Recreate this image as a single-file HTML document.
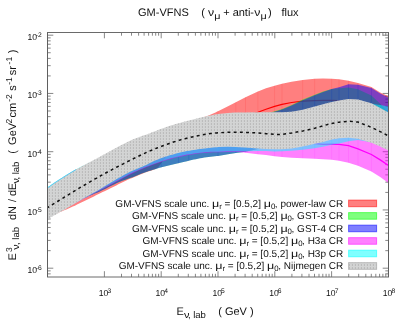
<!DOCTYPE html>
<html><head><meta charset="utf-8"><title>GM-VFNS flux</title>
<style>html,body{margin:0;padding:0;background:#fff;overflow:hidden}body{width:407px;height:326px;position:relative;font-family:"Liberation Sans",sans-serif}</style></head>
<body>
<svg width="407" height="326" viewBox="0 0 407 326" style="position:absolute;left:0;top:0;will-change:transform">
<defs><clipPath id="cp"><rect x="47.50" y="32.50" width="341.00" height="244.50"/></clipPath>
<pattern id="dots" x="0" y="0" width="3" height="3" patternUnits="userSpaceOnUse"><rect x="0.90" y="0.20" width="1" height="1.6" fill="#b3b3b3"/></pattern>
</defs>
<path d="M104.40,277.00L104.40,271.20 M104.40,32.50L104.40,38.30 M121.50,277.00L121.50,273.80 M121.50,32.50L121.50,35.70 M131.50,277.00L131.50,273.80 M131.50,32.50L131.50,35.70 M138.60,277.00L138.60,273.80 M138.60,32.50L138.60,35.70 M144.10,277.00L144.10,273.80 M144.10,32.50L144.10,35.70 M148.60,277.00L148.60,273.80 M148.60,32.50L148.60,35.70 M152.40,277.00L152.40,273.80 M152.40,32.50L152.40,35.70 M155.70,277.00L155.70,273.80 M155.70,32.50L155.70,35.70 M158.60,277.00L158.60,273.80 M158.60,32.50L158.60,35.70 M161.20,277.00L161.20,271.20 M161.20,32.50L161.20,38.30 M178.30,277.00L178.30,273.80 M178.30,32.50L178.30,35.70 M188.30,277.00L188.30,273.80 M188.30,32.50L188.30,35.70 M195.40,277.00L195.40,273.80 M195.40,32.50L195.40,35.70 M200.90,277.00L200.90,273.80 M200.90,32.50L200.90,35.70 M205.40,277.00L205.40,273.80 M205.40,32.50L205.40,35.70 M209.20,277.00L209.20,273.80 M209.20,32.50L209.20,35.70 M212.50,277.00L212.50,273.80 M212.50,32.50L212.50,35.70 M215.40,277.00L215.40,273.80 M215.40,32.50L215.40,35.70 M218.00,277.00L218.00,271.20 M218.00,32.50L218.00,38.30 M235.10,277.00L235.10,273.80 M235.10,32.50L235.10,35.70 M245.10,277.00L245.10,273.80 M245.10,32.50L245.10,35.70 M252.20,277.00L252.20,273.80 M252.20,32.50L252.20,35.70 M257.70,277.00L257.70,273.80 M257.70,32.50L257.70,35.70 M262.20,277.00L262.20,273.80 M262.20,32.50L262.20,35.70 M266.00,277.00L266.00,273.80 M266.00,32.50L266.00,35.70 M269.30,277.00L269.30,273.80 M269.30,32.50L269.30,35.70 M272.20,277.00L272.20,273.80 M272.20,32.50L272.20,35.70 M274.80,277.00L274.80,271.20 M274.80,32.50L274.80,38.30 M291.90,277.00L291.90,273.80 M291.90,32.50L291.90,35.70 M301.90,277.00L301.90,273.80 M301.90,32.50L301.90,35.70 M309.00,277.00L309.00,273.80 M309.00,32.50L309.00,35.70 M314.50,277.00L314.50,273.80 M314.50,32.50L314.50,35.70 M319.00,277.00L319.00,273.80 M319.00,32.50L319.00,35.70 M322.80,277.00L322.80,273.80 M322.80,32.50L322.80,35.70 M326.10,277.00L326.10,273.80 M326.10,32.50L326.10,35.70 M329.00,277.00L329.00,273.80 M329.00,32.50L329.00,35.70 M331.60,277.00L331.60,271.20 M331.60,32.50L331.60,38.30 M348.70,277.00L348.70,273.80 M348.70,32.50L348.70,35.70 M358.70,277.00L358.70,273.80 M358.70,32.50L358.70,35.70 M365.80,277.00L365.80,273.80 M365.80,32.50L365.80,35.70 M371.30,277.00L371.30,273.80 M371.30,32.50L371.30,35.70 M375.80,277.00L375.80,273.80 M375.80,32.50L375.80,35.70 M379.60,277.00L379.60,273.80 M379.60,32.50L379.60,35.70 M382.90,277.00L382.90,273.80 M382.90,32.50L382.90,35.70 M385.80,277.00L385.80,273.80 M385.80,32.50L385.80,35.70 M388.40,277.00L388.40,271.20 M388.40,32.50L388.40,38.30 M47.50,273.85L50.70,273.85 M388.50,273.85L385.30,273.85 M47.50,270.87L50.70,270.87 M388.50,270.87L385.30,270.87 M47.50,268.20L53.30,268.20 M388.50,268.20L382.70,268.20 M47.50,250.67L50.70,250.67 M388.50,250.67L385.30,250.67 M47.50,240.41L50.70,240.41 M388.50,240.41L385.30,240.41 M47.50,233.13L50.70,233.13 M388.50,233.13L385.30,233.13 M47.50,227.48L50.70,227.48 M388.50,227.48L385.30,227.48 M47.50,222.87L50.70,222.87 M388.50,222.87L385.30,222.87 M47.50,218.97L50.70,218.97 M388.50,218.97L385.30,218.97 M47.50,215.60L50.70,215.60 M388.50,215.60L385.30,215.60 M47.50,212.62L50.70,212.62 M388.50,212.62L385.30,212.62 M47.50,209.95L53.30,209.95 M388.50,209.95L382.70,209.95 M47.50,192.42L50.70,192.42 M388.50,192.42L385.30,192.42 M47.50,182.16L50.70,182.16 M388.50,182.16L385.30,182.16 M47.50,174.88L50.70,174.88 M388.50,174.88L385.30,174.88 M47.50,169.23L50.70,169.23 M388.50,169.23L385.30,169.23 M47.50,164.62L50.70,164.62 M388.50,164.62L385.30,164.62 M47.50,160.72L50.70,160.72 M388.50,160.72L385.30,160.72 M47.50,157.35L50.70,157.35 M388.50,157.35L385.30,157.35 M47.50,154.37L50.70,154.37 M388.50,154.37L385.30,154.37 M47.50,151.70L53.30,151.70 M388.50,151.70L382.70,151.70 M47.50,134.17L50.70,134.17 M388.50,134.17L385.30,134.17 M47.50,123.91L50.70,123.91 M388.50,123.91L385.30,123.91 M47.50,116.63L50.70,116.63 M388.50,116.63L385.30,116.63 M47.50,110.98L50.70,110.98 M388.50,110.98L385.30,110.98 M47.50,106.37L50.70,106.37 M388.50,106.37L385.30,106.37 M47.50,102.47L50.70,102.47 M388.50,102.47L385.30,102.47 M47.50,99.10L50.70,99.10 M388.50,99.10L385.30,99.10 M47.50,96.12L50.70,96.12 M388.50,96.12L385.30,96.12 M47.50,93.45L53.30,93.45 M388.50,93.45L382.70,93.45 M47.50,75.92L50.70,75.92 M388.50,75.92L385.30,75.92 M47.50,65.66L50.70,65.66 M388.50,65.66L385.30,65.66 M47.50,58.38L50.70,58.38 M388.50,58.38L385.30,58.38 M47.50,52.73L50.70,52.73 M388.50,52.73L385.30,52.73 M47.50,48.12L50.70,48.12 M388.50,48.12L385.30,48.12 M47.50,44.22L50.70,44.22 M388.50,44.22L385.30,44.22 M47.50,40.85L50.70,40.85 M388.50,40.85L385.30,40.85 M47.50,37.87L50.70,37.87 M388.50,37.87L385.30,37.87 M47.50,35.20L53.30,35.20 M388.50,35.20L382.70,35.20" stroke="#555" stroke-width="0.7" fill="none"/>
<g clip-path="url(#cp)">
<path d="M47.50,189.50 L49.52,188.30 L51.54,187.10 L53.56,185.89 L55.58,184.67 L57.60,183.45 L59.62,182.22 L61.63,180.99 L63.65,179.76 L65.67,178.53 L67.69,177.30 L69.71,176.07 L71.73,174.84 L73.75,173.61 L75.77,172.39 L77.79,171.18 L79.81,169.97 L81.83,168.77 L83.85,167.58 L85.87,166.40 L87.88,165.23 L89.90,164.07 L91.92,162.93 L93.94,161.80 L95.96,160.68 L97.98,159.58 L100.00,158.50 L102.00,157.44 L104.00,156.39 L106.00,155.35 L108.00,154.32 L110.00,153.30 L112.00,152.29 L114.00,151.28 L116.00,150.29 L118.00,149.31 L120.00,148.34 L122.00,147.37 L124.00,146.42 L126.00,145.48 L128.00,144.55 L130.00,143.62 L132.00,142.71 L134.00,141.81 L136.00,140.92 L138.00,140.04 L140.00,139.17 L142.00,138.32 L144.00,137.47 L146.00,136.64 L148.00,135.81 L150.00,135.00 L152.00,134.21 L154.00,133.45 L156.00,132.72 L158.00,132.02 L160.00,131.35 L162.00,130.69 L164.00,130.05 L166.00,129.43 L168.00,128.82 L170.00,128.22 L172.00,127.63 L174.00,127.05 L176.00,126.46 L178.00,125.88 L180.00,125.29 L182.00,124.69 L184.00,124.09 L186.00,123.48 L188.00,122.85 L190.00,122.20 L192.00,121.52 L194.00,120.81 L196.00,120.07 L198.00,119.33 L200.00,118.60 L202.15,117.85 L204.30,117.11 L206.45,116.35 L208.60,115.50 L210.88,114.51 L213.16,113.47 L215.44,112.40 L217.72,111.30 L218.00,111.17 L228.00,106.22 L235.80,102.19 L245.50,97.14 L257.90,91.44 L266.00,88.35 L274.60,85.63 L282.00,83.72 L291.60,81.68 L302.70,79.89 L314.70,78.87 L323.00,78.62 L331.70,78.76 L339.00,79.29 L348.50,80.67 L358.00,82.95 L371.40,87.00 L380.20,92.50 L388.50,96.30 L388.50,140.00 L380.20,137.04 L371.40,133.55 L358.00,129.16 L348.50,127.96 L339.00,128.51 L331.70,129.68 L323.00,131.55 L314.70,133.46 L302.70,135.68 L291.60,136.66 L282.00,137.08 L274.60,137.26 L266.00,137.42 L257.90,137.64 L245.50,138.26 L235.80,138.78 L228.00,139.22 L218.00,139.93 L216.00,140.10 L214.00,140.29 L212.00,140.48 L210.00,140.70 L208.00,140.92 L206.00,141.16 L204.00,141.42 L202.00,141.70 L200.00,142.00 L198.00,142.32 L196.00,142.68 L194.00,143.07 L192.00,143.49 L190.00,143.96 L188.00,144.45 L186.00,144.99 L184.00,145.57 L182.00,146.20 L180.00,146.86 L178.00,147.58 L176.00,148.34 L174.00,149.14 L172.00,150.00 L170.00,151.67 L168.00,154.31 L166.00,157.00 L164.00,159.44 L162.00,162.00 L160.00,164.94 L158.00,167.60 L155.00,169.30 L153.00,170.02 L151.00,170.66 L149.00,171.27 L147.00,171.90 L145.00,172.60 L143.00,173.38 L141.00,174.21 L139.00,175.07 L137.00,175.94 L135.00,176.80 L132.94,177.66 L130.88,178.51 L128.82,179.37 L126.76,180.26 L124.70,181.20 L122.60,182.21 L120.50,183.26 L118.40,184.32 L116.30,185.40 L114.20,186.48 L112.10,187.55 L110.00,188.60 L107.55,189.79 L105.10,190.96 L102.65,192.12 L100.20,193.30 L98.10,194.32 L96.00,195.35 L93.90,196.39 L91.80,197.42 L89.70,198.45 L87.60,199.48 L85.50,200.50 L83.39,201.53 L81.27,202.56 L79.16,203.59 L77.04,204.62 L74.93,205.63 L72.81,206.62 L70.70,207.60 L68.53,208.55 L66.35,209.43 L64.17,210.30 L62.00,211.20 L59.93,212.09 L57.86,212.98 L55.79,213.88 L53.71,214.79 L51.64,215.69 L49.57,216.60 L47.50,217.50Z" fill="#ff0000" fill-opacity="0.5"/>
<clipPath id="cR"><path d="M47.50,189.50 L49.52,188.30 L51.54,187.10 L53.56,185.89 L55.58,184.67 L57.60,183.45 L59.62,182.22 L61.63,180.99 L63.65,179.76 L65.67,178.53 L67.69,177.30 L69.71,176.07 L71.73,174.84 L73.75,173.61 L75.77,172.39 L77.79,171.18 L79.81,169.97 L81.83,168.77 L83.85,167.58 L85.87,166.40 L87.88,165.23 L89.90,164.07 L91.92,162.93 L93.94,161.80 L95.96,160.68 L97.98,159.58 L100.00,158.50 L102.00,157.44 L104.00,156.39 L106.00,155.35 L108.00,154.32 L110.00,153.30 L112.00,152.29 L114.00,151.28 L116.00,150.29 L118.00,149.31 L120.00,148.34 L122.00,147.37 L124.00,146.42 L126.00,145.48 L128.00,144.55 L130.00,143.62 L132.00,142.71 L134.00,141.81 L136.00,140.92 L138.00,140.04 L140.00,139.17 L142.00,138.32 L144.00,137.47 L146.00,136.64 L148.00,135.81 L150.00,135.00 L152.00,134.21 L154.00,133.45 L156.00,132.72 L158.00,132.02 L160.00,131.35 L162.00,130.69 L164.00,130.05 L166.00,129.43 L168.00,128.82 L170.00,128.22 L172.00,127.63 L174.00,127.05 L176.00,126.46 L178.00,125.88 L180.00,125.29 L182.00,124.69 L184.00,124.09 L186.00,123.48 L188.00,122.85 L190.00,122.20 L192.00,121.52 L194.00,120.81 L196.00,120.07 L198.00,119.33 L200.00,118.60 L202.15,117.85 L204.30,117.11 L206.45,116.35 L208.60,115.50 L210.88,114.51 L213.16,113.47 L215.44,112.40 L217.72,111.30 L218.00,111.17 L228.00,106.22 L235.80,102.19 L245.50,97.14 L257.90,91.44 L266.00,88.35 L274.60,85.63 L282.00,83.72 L291.60,81.68 L302.70,79.89 L314.70,78.87 L323.00,78.62 L331.70,78.76 L339.00,79.29 L348.50,80.67 L358.00,82.95 L371.40,87.00 L380.20,92.50 L388.50,96.30 L388.50,140.00 L380.20,137.04 L371.40,133.55 L358.00,129.16 L348.50,127.96 L339.00,128.51 L331.70,129.68 L323.00,131.55 L314.70,133.46 L302.70,135.68 L291.60,136.66 L282.00,137.08 L274.60,137.26 L266.00,137.42 L257.90,137.64 L245.50,138.26 L235.80,138.78 L228.00,139.22 L218.00,139.93 L216.00,140.10 L214.00,140.29 L212.00,140.48 L210.00,140.70 L208.00,140.92 L206.00,141.16 L204.00,141.42 L202.00,141.70 L200.00,142.00 L198.00,142.32 L196.00,142.68 L194.00,143.07 L192.00,143.49 L190.00,143.96 L188.00,144.45 L186.00,144.99 L184.00,145.57 L182.00,146.20 L180.00,146.86 L178.00,147.58 L176.00,148.34 L174.00,149.14 L172.00,150.00 L170.00,151.67 L168.00,154.31 L166.00,157.00 L164.00,159.44 L162.00,162.00 L160.00,164.94 L158.00,167.60 L155.00,169.30 L153.00,170.02 L151.00,170.66 L149.00,171.27 L147.00,171.90 L145.00,172.60 L143.00,173.38 L141.00,174.21 L139.00,175.07 L137.00,175.94 L135.00,176.80 L132.94,177.66 L130.88,178.51 L128.82,179.37 L126.76,180.26 L124.70,181.20 L122.60,182.21 L120.50,183.26 L118.40,184.32 L116.30,185.40 L114.20,186.48 L112.10,187.55 L110.00,188.60 L107.55,189.79 L105.10,190.96 L102.65,192.12 L100.20,193.30 L98.10,194.32 L96.00,195.35 L93.90,196.39 L91.80,197.42 L89.70,198.45 L87.60,199.48 L85.50,200.50 L83.39,201.53 L81.27,202.56 L79.16,203.59 L77.04,204.62 L74.93,205.63 L72.81,206.62 L70.70,207.60 L68.53,208.55 L66.35,209.43 L64.17,210.30 L62.00,211.20 L59.93,212.09 L57.86,212.98 L55.79,213.88 L53.71,214.79 L51.64,215.69 L49.57,216.60 L47.50,217.50Z"/></clipPath>
<path clip-path="url(#cR)" d="M161.2,40V270 M178.4,40V270 M188.8,40V270 M218.0,40V270 M235.8,40V270 M245.5,40V270 M257.9,40V270 M274.6,40V270 M282.0,40V270 M302.7,40V270 M314.7,40V270 M331.7,40V270 M339.0,40V270 M348.5,40V270 M358.0,40V270 M371.4,40V270" stroke="#ff0000" stroke-opacity="0.16" stroke-width="0.7" fill="none"/>
<path d="M47.50,206.00 L49.52,204.80 L51.54,203.60 L53.56,202.40 L55.58,201.18 L57.60,199.97 L59.62,198.75 L61.63,197.53 L63.65,196.31 L65.67,195.09 L67.69,193.87 L69.71,192.65 L71.73,191.43 L73.75,190.21 L75.77,189.00 L77.79,187.79 L79.81,186.59 L81.83,185.39 L83.85,184.20 L85.87,183.01 L87.88,181.84 L89.90,180.67 L91.92,179.51 L93.94,178.37 L95.96,177.23 L97.98,176.11 L100.00,175.00 L102.00,173.91 L104.00,172.83 L106.00,171.77 L108.00,170.71 L110.00,169.66 L112.00,168.61 L114.00,167.58 L116.00,166.55 L118.00,165.53 L120.00,164.52 L122.00,163.52 L124.00,162.52 L126.00,161.53 L128.00,160.54 L130.00,159.56 L132.00,158.59 L134.00,157.62 L136.00,156.65 L138.00,155.69 L140.00,154.73 L142.00,153.78 L144.00,152.83 L146.00,151.88 L148.00,150.94 L150.00,150.00 L152.00,149.06 L154.00,148.11 L156.00,147.17 L158.00,146.22 L160.00,145.27 L162.00,144.33 L164.00,143.38 L166.00,142.44 L168.00,141.51 L170.00,140.58 L172.00,139.66 L174.00,138.74 L176.00,137.83 L178.00,136.93 L180.00,136.05 L182.00,135.17 L184.00,134.31 L186.00,133.46 L188.00,132.63 L190.00,131.81 L192.00,131.01 L194.00,130.23 L196.00,129.47 L198.00,128.72 L200.00,128.00 L202.00,127.31 L204.00,126.67 L206.00,126.06 L208.00,125.49 L210.00,124.95 L212.00,124.44 L214.00,123.95 L216.00,123.48 L218.00,123.03 L228.00,120.87 L235.80,119.08 L245.50,116.37 L257.90,112.23 L266.00,109.23 L274.60,106.33 L282.00,104.43 L291.60,102.52 L302.70,101.18 L314.70,100.61 L323.00,100.34 L331.70,100.28 L339.00,100.53 L348.50,101.57 L358.00,105.04 L371.40,110.65 L380.20,114.47 L388.50,118.00" fill="none" stroke="#ff0000" stroke-width="1.2"/>
<path d="M47.50,189.50 L49.52,188.30 L51.54,187.10 L53.56,185.88 L55.58,184.66 L57.60,183.44 L59.62,182.21 L61.63,180.98 L63.65,179.74 L65.67,178.51 L67.69,177.27 L69.71,176.04 L71.73,174.81 L73.75,173.58 L75.77,172.36 L77.79,171.14 L79.81,169.94 L81.83,168.74 L83.85,167.55 L85.87,166.37 L87.88,165.20 L89.90,164.04 L91.92,162.90 L93.94,161.78 L95.96,160.67 L97.98,159.57 L100.00,158.50 L102.00,157.45 L104.00,156.41 L106.00,155.38 L108.00,154.36 L110.00,153.35 L112.00,152.35 L114.00,151.36 L116.00,150.38 L118.00,149.42 L120.00,148.46 L122.00,147.51 L124.00,146.58 L126.00,145.65 L128.00,144.74 L130.00,143.84 L132.00,142.95 L134.00,142.07 L136.00,141.21 L138.00,140.35 L140.00,139.51 L142.00,138.68 L144.00,137.87 L146.00,137.07 L148.00,136.28 L150.00,135.50 L152.00,134.73 L154.00,133.97 L156.00,133.22 L158.00,132.47 L160.00,131.74 L162.00,131.01 L164.00,130.29 L166.00,129.58 L168.00,128.89 L170.00,128.21 L172.00,127.54 L174.00,126.88 L176.00,126.24 L178.00,125.62 L180.00,125.01 L182.00,124.42 L184.00,123.85 L186.00,123.29 L188.00,122.76 L190.00,122.24 L192.00,121.75 L194.00,121.28 L196.00,120.83 L198.00,120.40 L200.00,120.00 L202.00,119.63 L204.00,119.29 L206.00,118.99 L208.00,118.73 L210.00,118.49 L212.00,118.27 L214.00,118.08 L216.00,117.92 L218.00,117.77 L228.00,117.23 L235.80,116.91 L245.50,116.37 L257.90,115.08 L266.00,113.80 L274.60,111.35 L282.00,109.00 L291.60,104.96 L302.70,99.56 L314.70,94.80 L323.00,91.58 L331.70,88.90 L339.00,88.25 L348.50,87.40 L358.00,89.20 L371.40,95.40 L380.20,103.71 L388.50,113.00 L388.50,140.00 L380.20,137.48 L371.40,134.46 L358.00,130.78 L348.50,130.02 L339.00,130.86 L331.70,132.17 L323.00,134.22 L314.70,136.41 L302.70,139.42 L291.60,141.74 L282.00,143.77 L274.60,145.35 L266.00,147.20 L257.90,148.97 L245.50,151.72 L235.80,153.06 L228.00,154.27 L218.00,155.93 L216.89,156.07 L214.77,156.31 L212.66,156.54 L210.54,156.77 L208.43,157.02 L206.31,157.29 L204.20,157.60 L202.10,157.95 L200.00,158.33 L197.90,158.74 L195.80,159.17 L193.70,159.60 L191.60,160.05 L189.50,160.50 L187.00,161.13 L184.50,161.80 L182.39,162.29 L180.27,162.78 L178.16,163.26 L176.04,163.73 L173.93,164.21 L171.81,164.70 L169.70,165.20 L167.66,165.69 L165.62,166.20 L163.58,166.72 L161.54,167.25 L159.50,167.80 L157.25,168.48 L155.00,169.20 L152.94,169.83 L150.88,170.44 L148.82,171.06 L146.76,171.71 L144.70,172.40 L142.27,173.29 L139.85,174.25 L137.43,175.24 L135.00,176.20 L132.50,177.17 L130.00,178.10 L127.35,178.98 L124.70,179.90 L122.28,180.84 L119.85,181.80 L117.42,182.82 L115.00,183.90 L112.89,184.91 L110.77,185.98 L108.66,187.07 L106.54,188.16 L104.43,189.25 L102.31,190.30 L100.20,191.30 L98.18,192.20 L96.16,193.04 L94.13,193.86 L92.11,194.66 L90.09,195.46 L88.07,196.28 L86.04,197.13 L84.02,198.03 L82.00,199.00 L79.97,200.02 L77.94,201.05 L75.91,202.10 L73.88,203.17 L71.85,204.24 L69.82,205.33 L67.79,206.43 L65.76,207.53 L63.74,208.64 L61.71,209.75 L59.68,210.86 L57.65,211.98 L55.62,213.09 L53.59,214.20 L51.56,215.31 L49.53,216.41 L47.50,217.50Z" fill="#00ff00" fill-opacity="0.5"/>
<clipPath id="cG"><path d="M47.50,189.50 L49.52,188.30 L51.54,187.10 L53.56,185.88 L55.58,184.66 L57.60,183.44 L59.62,182.21 L61.63,180.98 L63.65,179.74 L65.67,178.51 L67.69,177.27 L69.71,176.04 L71.73,174.81 L73.75,173.58 L75.77,172.36 L77.79,171.14 L79.81,169.94 L81.83,168.74 L83.85,167.55 L85.87,166.37 L87.88,165.20 L89.90,164.04 L91.92,162.90 L93.94,161.78 L95.96,160.67 L97.98,159.57 L100.00,158.50 L102.00,157.45 L104.00,156.41 L106.00,155.38 L108.00,154.36 L110.00,153.35 L112.00,152.35 L114.00,151.36 L116.00,150.38 L118.00,149.42 L120.00,148.46 L122.00,147.51 L124.00,146.58 L126.00,145.65 L128.00,144.74 L130.00,143.84 L132.00,142.95 L134.00,142.07 L136.00,141.21 L138.00,140.35 L140.00,139.51 L142.00,138.68 L144.00,137.87 L146.00,137.07 L148.00,136.28 L150.00,135.50 L152.00,134.73 L154.00,133.97 L156.00,133.22 L158.00,132.47 L160.00,131.74 L162.00,131.01 L164.00,130.29 L166.00,129.58 L168.00,128.89 L170.00,128.21 L172.00,127.54 L174.00,126.88 L176.00,126.24 L178.00,125.62 L180.00,125.01 L182.00,124.42 L184.00,123.85 L186.00,123.29 L188.00,122.76 L190.00,122.24 L192.00,121.75 L194.00,121.28 L196.00,120.83 L198.00,120.40 L200.00,120.00 L202.00,119.63 L204.00,119.29 L206.00,118.99 L208.00,118.73 L210.00,118.49 L212.00,118.27 L214.00,118.08 L216.00,117.92 L218.00,117.77 L228.00,117.23 L235.80,116.91 L245.50,116.37 L257.90,115.08 L266.00,113.80 L274.60,111.35 L282.00,109.00 L291.60,104.96 L302.70,99.56 L314.70,94.80 L323.00,91.58 L331.70,88.90 L339.00,88.25 L348.50,87.40 L358.00,89.20 L371.40,95.40 L380.20,103.71 L388.50,113.00 L388.50,140.00 L380.20,137.48 L371.40,134.46 L358.00,130.78 L348.50,130.02 L339.00,130.86 L331.70,132.17 L323.00,134.22 L314.70,136.41 L302.70,139.42 L291.60,141.74 L282.00,143.77 L274.60,145.35 L266.00,147.20 L257.90,148.97 L245.50,151.72 L235.80,153.06 L228.00,154.27 L218.00,155.93 L216.89,156.07 L214.77,156.31 L212.66,156.54 L210.54,156.77 L208.43,157.02 L206.31,157.29 L204.20,157.60 L202.10,157.95 L200.00,158.33 L197.90,158.74 L195.80,159.17 L193.70,159.60 L191.60,160.05 L189.50,160.50 L187.00,161.13 L184.50,161.80 L182.39,162.29 L180.27,162.78 L178.16,163.26 L176.04,163.73 L173.93,164.21 L171.81,164.70 L169.70,165.20 L167.66,165.69 L165.62,166.20 L163.58,166.72 L161.54,167.25 L159.50,167.80 L157.25,168.48 L155.00,169.20 L152.94,169.83 L150.88,170.44 L148.82,171.06 L146.76,171.71 L144.70,172.40 L142.27,173.29 L139.85,174.25 L137.43,175.24 L135.00,176.20 L132.50,177.17 L130.00,178.10 L127.35,178.98 L124.70,179.90 L122.28,180.84 L119.85,181.80 L117.42,182.82 L115.00,183.90 L112.89,184.91 L110.77,185.98 L108.66,187.07 L106.54,188.16 L104.43,189.25 L102.31,190.30 L100.20,191.30 L98.18,192.20 L96.16,193.04 L94.13,193.86 L92.11,194.66 L90.09,195.46 L88.07,196.28 L86.04,197.13 L84.02,198.03 L82.00,199.00 L79.97,200.02 L77.94,201.05 L75.91,202.10 L73.88,203.17 L71.85,204.24 L69.82,205.33 L67.79,206.43 L65.76,207.53 L63.74,208.64 L61.71,209.75 L59.68,210.86 L57.65,211.98 L55.62,213.09 L53.59,214.20 L51.56,215.31 L49.53,216.41 L47.50,217.50Z"/></clipPath>
<path clip-path="url(#cG)" d="M161.2,40V270 M178.4,40V270 M188.8,40V270 M218.0,40V270 M235.8,40V270 M245.5,40V270 M257.9,40V270 M274.6,40V270 M282.0,40V270 M302.7,40V270 M314.7,40V270 M331.7,40V270 M339.0,40V270 M348.5,40V270 M358.0,40V270 M371.4,40V270" stroke="#00ff00" stroke-opacity="0.16" stroke-width="0.7" fill="none"/>
<path d="M47.50,189.50 L49.52,188.30 L51.54,187.10 L53.56,185.88 L55.58,184.66 L57.60,183.44 L59.62,182.21 L61.63,180.98 L63.65,179.74 L65.67,178.51 L67.69,177.27 L69.71,176.04 L71.73,174.81 L73.75,173.58 L75.77,172.36 L77.79,171.14 L79.81,169.94 L81.83,168.74 L83.85,167.55 L85.87,166.37 L87.88,165.20 L89.90,164.04 L91.92,162.90 L93.94,161.78 L95.96,160.67 L97.98,159.57 L100.00,158.50 L102.00,157.45 L104.00,156.41 L106.00,155.38 L108.00,154.36 L110.00,153.35 L112.00,152.35 L114.00,151.36 L116.00,150.38 L118.00,149.42 L120.00,148.46 L122.00,147.51 L124.00,146.58 L126.00,145.65 L128.00,144.74 L130.00,143.84 L132.00,142.95 L134.00,142.07 L136.00,141.21 L138.00,140.35 L140.00,139.51 L142.00,138.68 L144.00,137.87 L146.00,137.07 L148.00,136.28 L150.00,135.50 L152.00,134.73 L154.00,133.97 L156.00,133.22 L158.00,132.47 L160.00,131.73 L162.00,131.00 L164.00,130.28 L166.00,129.57 L168.00,128.88 L170.00,128.19 L172.00,127.52 L174.00,126.87 L176.00,126.22 L178.00,125.60 L180.00,124.99 L182.00,124.40 L184.00,123.83 L186.00,123.27 L188.00,122.74 L190.00,122.22 L192.00,121.73 L194.00,121.26 L196.00,120.82 L198.00,120.40 L200.00,120.00 L202.00,119.64 L204.00,119.31 L206.00,119.02 L208.00,118.76 L210.00,118.53 L212.00,118.32 L214.00,118.15 L216.00,117.99 L218.00,117.86 L228.00,117.38 L235.80,117.11 L245.50,116.64 L257.90,115.44 L266.00,114.20 L274.60,111.87 L282.00,109.59 L291.60,105.56 L302.70,100.16 L314.70,95.21 L323.00,91.91 L331.70,89.02 L339.00,87.29 L348.50,84.30 L358.00,84.70 L371.40,88.00 L380.20,93.60 L388.50,97.40 L388.50,140.00 L380.20,137.48 L371.40,134.46 L358.00,130.78 L348.50,130.02 L339.00,130.86 L331.70,132.17 L323.00,134.22 L314.70,136.41 L302.70,139.42 L291.60,141.74 L282.00,143.77 L274.60,145.35 L266.00,147.20 L257.90,148.97 L245.50,151.72 L235.80,153.06 L228.00,154.27 L218.00,155.93 L216.89,156.07 L214.77,156.31 L212.66,156.54 L210.54,156.77 L208.43,157.02 L206.31,157.29 L204.20,157.60 L202.10,157.95 L200.00,158.33 L197.90,158.74 L195.80,159.17 L193.70,159.60 L191.60,160.05 L189.50,160.50 L187.00,161.13 L184.50,161.80 L182.39,162.29 L180.27,162.78 L178.16,163.26 L176.04,163.73 L173.93,164.21 L171.81,164.70 L169.70,165.20 L167.66,165.69 L165.62,166.20 L163.58,166.72 L161.54,167.25 L159.50,167.80 L157.25,168.48 L155.00,169.20 L152.94,169.83 L150.88,170.44 L148.82,171.06 L146.76,171.71 L144.70,172.40 L142.27,173.29 L139.85,174.25 L137.43,175.24 L135.00,176.20 L132.50,177.17 L130.00,178.10 L127.35,178.98 L124.70,179.90 L122.28,180.84 L119.85,181.80 L117.42,182.82 L115.00,183.90 L112.89,184.91 L110.77,185.98 L108.66,187.07 L106.54,188.16 L104.43,189.25 L102.31,190.30 L100.20,191.30 L98.18,192.20 L96.16,193.04 L94.13,193.86 L92.11,194.66 L90.09,195.46 L88.07,196.28 L86.04,197.13 L84.02,198.03 L82.00,199.00 L79.97,200.02 L77.94,201.05 L75.91,202.10 L73.88,203.17 L71.85,204.24 L69.82,205.33 L67.79,206.43 L65.76,207.53 L63.74,208.64 L61.71,209.75 L59.68,210.86 L57.65,211.98 L55.62,213.09 L53.59,214.20 L51.56,215.31 L49.53,216.41 L47.50,217.50Z" fill="#0000ff" fill-opacity="0.5"/>
<clipPath id="cB"><path d="M47.50,189.50 L49.52,188.30 L51.54,187.10 L53.56,185.88 L55.58,184.66 L57.60,183.44 L59.62,182.21 L61.63,180.98 L63.65,179.74 L65.67,178.51 L67.69,177.27 L69.71,176.04 L71.73,174.81 L73.75,173.58 L75.77,172.36 L77.79,171.14 L79.81,169.94 L81.83,168.74 L83.85,167.55 L85.87,166.37 L87.88,165.20 L89.90,164.04 L91.92,162.90 L93.94,161.78 L95.96,160.67 L97.98,159.57 L100.00,158.50 L102.00,157.45 L104.00,156.41 L106.00,155.38 L108.00,154.36 L110.00,153.35 L112.00,152.35 L114.00,151.36 L116.00,150.38 L118.00,149.42 L120.00,148.46 L122.00,147.51 L124.00,146.58 L126.00,145.65 L128.00,144.74 L130.00,143.84 L132.00,142.95 L134.00,142.07 L136.00,141.21 L138.00,140.35 L140.00,139.51 L142.00,138.68 L144.00,137.87 L146.00,137.07 L148.00,136.28 L150.00,135.50 L152.00,134.73 L154.00,133.97 L156.00,133.22 L158.00,132.47 L160.00,131.73 L162.00,131.00 L164.00,130.28 L166.00,129.57 L168.00,128.88 L170.00,128.19 L172.00,127.52 L174.00,126.87 L176.00,126.22 L178.00,125.60 L180.00,124.99 L182.00,124.40 L184.00,123.83 L186.00,123.27 L188.00,122.74 L190.00,122.22 L192.00,121.73 L194.00,121.26 L196.00,120.82 L198.00,120.40 L200.00,120.00 L202.00,119.64 L204.00,119.31 L206.00,119.02 L208.00,118.76 L210.00,118.53 L212.00,118.32 L214.00,118.15 L216.00,117.99 L218.00,117.86 L228.00,117.38 L235.80,117.11 L245.50,116.64 L257.90,115.44 L266.00,114.20 L274.60,111.87 L282.00,109.59 L291.60,105.56 L302.70,100.16 L314.70,95.21 L323.00,91.91 L331.70,89.02 L339.00,87.29 L348.50,84.30 L358.00,84.70 L371.40,88.00 L380.20,93.60 L388.50,97.40 L388.50,140.00 L380.20,137.48 L371.40,134.46 L358.00,130.78 L348.50,130.02 L339.00,130.86 L331.70,132.17 L323.00,134.22 L314.70,136.41 L302.70,139.42 L291.60,141.74 L282.00,143.77 L274.60,145.35 L266.00,147.20 L257.90,148.97 L245.50,151.72 L235.80,153.06 L228.00,154.27 L218.00,155.93 L216.89,156.07 L214.77,156.31 L212.66,156.54 L210.54,156.77 L208.43,157.02 L206.31,157.29 L204.20,157.60 L202.10,157.95 L200.00,158.33 L197.90,158.74 L195.80,159.17 L193.70,159.60 L191.60,160.05 L189.50,160.50 L187.00,161.13 L184.50,161.80 L182.39,162.29 L180.27,162.78 L178.16,163.26 L176.04,163.73 L173.93,164.21 L171.81,164.70 L169.70,165.20 L167.66,165.69 L165.62,166.20 L163.58,166.72 L161.54,167.25 L159.50,167.80 L157.25,168.48 L155.00,169.20 L152.94,169.83 L150.88,170.44 L148.82,171.06 L146.76,171.71 L144.70,172.40 L142.27,173.29 L139.85,174.25 L137.43,175.24 L135.00,176.20 L132.50,177.17 L130.00,178.10 L127.35,178.98 L124.70,179.90 L122.28,180.84 L119.85,181.80 L117.42,182.82 L115.00,183.90 L112.89,184.91 L110.77,185.98 L108.66,187.07 L106.54,188.16 L104.43,189.25 L102.31,190.30 L100.20,191.30 L98.18,192.20 L96.16,193.04 L94.13,193.86 L92.11,194.66 L90.09,195.46 L88.07,196.28 L86.04,197.13 L84.02,198.03 L82.00,199.00 L79.97,200.02 L77.94,201.05 L75.91,202.10 L73.88,203.17 L71.85,204.24 L69.82,205.33 L67.79,206.43 L65.76,207.53 L63.74,208.64 L61.71,209.75 L59.68,210.86 L57.65,211.98 L55.62,213.09 L53.59,214.20 L51.56,215.31 L49.53,216.41 L47.50,217.50Z"/></clipPath>
<path clip-path="url(#cB)" d="M161.2,40V270 M178.4,40V270 M188.8,40V270 M218.0,40V270 M235.8,40V270 M245.5,40V270 M257.9,40V270 M274.6,40V270 M282.0,40V270 M302.7,40V270 M314.7,40V270 M331.7,40V270 M339.0,40V270 M348.5,40V270 M358.0,40V270 M371.4,40V270" stroke="#0000ff" stroke-opacity="0.16" stroke-width="0.7" fill="none"/>
<path d="M47.50,189.50 L49.52,188.30 L51.54,187.10 L53.56,185.88 L55.58,184.66 L57.60,183.44 L59.62,182.21 L61.63,180.98 L63.65,179.74 L65.67,178.51 L67.69,177.27 L69.71,176.04 L71.73,174.81 L73.75,173.58 L75.77,172.36 L77.79,171.14 L79.81,169.94 L81.83,168.74 L83.85,167.55 L85.87,166.37 L87.88,165.20 L89.90,164.04 L91.92,162.90 L93.94,161.78 L95.96,160.67 L97.98,159.57 L100.00,158.50 L102.00,157.45 L104.00,156.41 L106.00,155.38 L108.00,154.36 L110.00,153.35 L112.00,152.35 L114.00,151.36 L116.00,150.38 L118.00,149.42 L120.00,148.46 L122.00,147.51 L124.00,146.58 L126.00,145.65 L128.00,144.74 L130.00,143.84 L132.00,142.95 L134.00,142.07 L136.00,141.21 L138.00,140.35 L140.00,139.51 L142.00,138.68 L144.00,137.87 L146.00,137.07 L148.00,136.28 L150.00,135.50 L152.00,134.73 L154.00,133.98 L156.00,133.22 L158.00,132.48 L160.00,131.75 L162.00,131.03 L164.00,130.32 L166.00,129.62 L168.00,128.93 L170.00,128.26 L172.00,127.59 L174.00,126.94 L176.00,126.31 L178.00,125.69 L180.00,125.08 L182.00,124.49 L184.00,123.92 L186.00,123.37 L188.00,122.83 L190.00,122.31 L192.00,121.81 L194.00,121.32 L196.00,120.86 L198.00,120.42 L200.00,120.00 L202.00,119.60 L204.00,119.23 L206.00,118.88 L208.00,118.55 L210.00,118.25 L212.00,117.96 L214.00,117.70 L216.00,117.45 L218.00,117.22 L228.00,116.29 L235.80,115.75 L245.50,115.23 L257.90,114.75 L266.00,114.73 L274.60,114.87 L282.00,115.01 L291.60,115.11 L302.70,114.87 L314.70,113.64 L323.00,112.51 L331.70,111.54 L339.00,111.19 L348.50,111.77 L358.00,114.25 L371.40,120.75 L380.20,125.70 L388.50,130.00 L388.50,182.90 L380.20,177.05 L371.40,171.52 L358.00,165.80 L348.50,162.71 L339.00,160.65 L331.70,159.70 L323.00,159.17 L314.70,158.81 L302.70,158.34 L291.60,157.84 L282.00,157.02 L274.60,156.18 L266.00,154.97 L257.90,154.17 L245.50,152.80 L235.80,151.83 L228.00,151.88 L218.00,152.23 L216.89,152.27 L214.77,152.32 L212.66,152.37 L210.54,152.44 L208.43,152.52 L206.31,152.64 L204.20,152.80 L202.10,153.01 L200.00,153.26 L197.90,153.54 L195.80,153.85 L193.70,154.16 L191.60,154.48 L189.50,154.80 L187.00,155.20 L184.50,155.70 L182.39,156.17 L180.27,156.64 L178.16,157.12 L176.04,157.60 L173.93,158.11 L171.81,158.64 L169.70,159.20 L167.66,159.79 L165.62,160.43 L163.58,161.12 L161.54,161.81 L159.50,162.50 L157.25,163.28 L155.00,164.10 L152.94,164.84 L150.88,165.57 L148.82,166.31 L146.76,167.08 L144.70,167.90 L142.60,168.77 L140.50,169.66 L138.40,170.56 L136.30,171.49 L134.20,172.43 L132.10,173.40 L130.00,174.40 L128.00,175.41 L126.00,176.48 L124.00,177.58 L122.00,178.70 L120.00,179.80 L118.00,180.88 L116.00,181.97 L114.00,183.06 L112.00,184.14 L110.00,185.20 L107.92,186.29 L105.83,187.39 L103.75,188.47 L101.67,189.56 L99.58,190.65 L97.50,191.73 L95.42,192.81 L93.33,193.89 L91.25,194.97 L89.17,196.05 L87.08,197.12 L85.00,198.20 L82.92,199.28 L80.83,200.35 L78.75,201.43 L76.67,202.50 L74.58,203.57 L72.50,204.65 L70.42,205.72 L68.33,206.79 L66.25,207.86 L64.17,208.93 L62.08,210.00 L60.00,211.07 L57.92,212.14 L55.83,213.21 L53.75,214.29 L51.67,215.36 L49.58,216.43 L47.50,217.50Z" fill="#ff00ff" fill-opacity="0.5"/>
<clipPath id="cM"><path d="M47.50,189.50 L49.52,188.30 L51.54,187.10 L53.56,185.88 L55.58,184.66 L57.60,183.44 L59.62,182.21 L61.63,180.98 L63.65,179.74 L65.67,178.51 L67.69,177.27 L69.71,176.04 L71.73,174.81 L73.75,173.58 L75.77,172.36 L77.79,171.14 L79.81,169.94 L81.83,168.74 L83.85,167.55 L85.87,166.37 L87.88,165.20 L89.90,164.04 L91.92,162.90 L93.94,161.78 L95.96,160.67 L97.98,159.57 L100.00,158.50 L102.00,157.45 L104.00,156.41 L106.00,155.38 L108.00,154.36 L110.00,153.35 L112.00,152.35 L114.00,151.36 L116.00,150.38 L118.00,149.42 L120.00,148.46 L122.00,147.51 L124.00,146.58 L126.00,145.65 L128.00,144.74 L130.00,143.84 L132.00,142.95 L134.00,142.07 L136.00,141.21 L138.00,140.35 L140.00,139.51 L142.00,138.68 L144.00,137.87 L146.00,137.07 L148.00,136.28 L150.00,135.50 L152.00,134.73 L154.00,133.98 L156.00,133.22 L158.00,132.48 L160.00,131.75 L162.00,131.03 L164.00,130.32 L166.00,129.62 L168.00,128.93 L170.00,128.26 L172.00,127.59 L174.00,126.94 L176.00,126.31 L178.00,125.69 L180.00,125.08 L182.00,124.49 L184.00,123.92 L186.00,123.37 L188.00,122.83 L190.00,122.31 L192.00,121.81 L194.00,121.32 L196.00,120.86 L198.00,120.42 L200.00,120.00 L202.00,119.60 L204.00,119.23 L206.00,118.88 L208.00,118.55 L210.00,118.25 L212.00,117.96 L214.00,117.70 L216.00,117.45 L218.00,117.22 L228.00,116.29 L235.80,115.75 L245.50,115.23 L257.90,114.75 L266.00,114.73 L274.60,114.87 L282.00,115.01 L291.60,115.11 L302.70,114.87 L314.70,113.64 L323.00,112.51 L331.70,111.54 L339.00,111.19 L348.50,111.77 L358.00,114.25 L371.40,120.75 L380.20,125.70 L388.50,130.00 L388.50,182.90 L380.20,177.05 L371.40,171.52 L358.00,165.80 L348.50,162.71 L339.00,160.65 L331.70,159.70 L323.00,159.17 L314.70,158.81 L302.70,158.34 L291.60,157.84 L282.00,157.02 L274.60,156.18 L266.00,154.97 L257.90,154.17 L245.50,152.80 L235.80,151.83 L228.00,151.88 L218.00,152.23 L216.89,152.27 L214.77,152.32 L212.66,152.37 L210.54,152.44 L208.43,152.52 L206.31,152.64 L204.20,152.80 L202.10,153.01 L200.00,153.26 L197.90,153.54 L195.80,153.85 L193.70,154.16 L191.60,154.48 L189.50,154.80 L187.00,155.20 L184.50,155.70 L182.39,156.17 L180.27,156.64 L178.16,157.12 L176.04,157.60 L173.93,158.11 L171.81,158.64 L169.70,159.20 L167.66,159.79 L165.62,160.43 L163.58,161.12 L161.54,161.81 L159.50,162.50 L157.25,163.28 L155.00,164.10 L152.94,164.84 L150.88,165.57 L148.82,166.31 L146.76,167.08 L144.70,167.90 L142.60,168.77 L140.50,169.66 L138.40,170.56 L136.30,171.49 L134.20,172.43 L132.10,173.40 L130.00,174.40 L128.00,175.41 L126.00,176.48 L124.00,177.58 L122.00,178.70 L120.00,179.80 L118.00,180.88 L116.00,181.97 L114.00,183.06 L112.00,184.14 L110.00,185.20 L107.92,186.29 L105.83,187.39 L103.75,188.47 L101.67,189.56 L99.58,190.65 L97.50,191.73 L95.42,192.81 L93.33,193.89 L91.25,194.97 L89.17,196.05 L87.08,197.12 L85.00,198.20 L82.92,199.28 L80.83,200.35 L78.75,201.43 L76.67,202.50 L74.58,203.57 L72.50,204.65 L70.42,205.72 L68.33,206.79 L66.25,207.86 L64.17,208.93 L62.08,210.00 L60.00,211.07 L57.92,212.14 L55.83,213.21 L53.75,214.29 L51.67,215.36 L49.58,216.43 L47.50,217.50Z"/></clipPath>
<path clip-path="url(#cM)" d="M161.2,40V270 M178.4,40V270 M188.8,40V270 M218.0,40V270 M235.8,40V270 M245.5,40V270 M257.9,40V270 M274.6,40V270 M282.0,40V270 M302.7,40V270 M314.7,40V270 M331.7,40V270 M339.0,40V270 M348.5,40V270 M358.0,40V270 M371.4,40V270" stroke="#ff00ff" stroke-opacity="0.16" stroke-width="0.7" fill="none"/>
<path d="M47.50,206.00 L49.52,204.84 L51.54,203.68 L53.56,202.51 L55.58,201.34 L57.60,200.16 L59.62,198.98 L61.63,197.80 L63.65,196.62 L65.67,195.43 L67.69,194.25 L69.71,193.07 L71.73,191.89 L73.75,190.71 L75.77,189.53 L77.79,188.36 L79.81,187.20 L81.83,186.04 L83.85,184.89 L85.87,183.74 L87.88,182.60 L89.90,181.48 L91.92,180.36 L93.94,179.25 L95.96,178.15 L97.98,177.07 L100.00,176.00 L102.00,174.95 L104.00,173.89 L106.00,172.84 L108.00,171.79 L110.00,170.74 L112.00,169.70 L114.00,168.66 L116.00,167.63 L118.00,166.60 L120.00,165.58 L122.00,164.57 L124.00,163.58 L126.00,162.59 L128.00,161.62 L130.00,160.66 L132.00,159.71 L134.00,158.78 L136.00,157.86 L138.00,156.96 L140.00,156.09 L142.00,155.23 L144.00,154.39 L146.00,153.57 L148.00,152.77 L150.00,152.00 L152.00,151.25 L154.00,150.50 L156.00,149.77 L158.00,149.06 L160.00,148.35 L162.00,147.66 L164.00,146.99 L166.00,146.33 L168.00,145.68 L170.00,145.06 L172.00,144.45 L174.00,143.85 L176.00,143.28 L178.00,142.72 L180.00,142.18 L182.00,141.67 L184.00,141.17 L186.00,140.69 L188.00,140.24 L190.00,139.81 L192.00,139.40 L194.00,139.01 L196.00,138.65 L198.00,138.31 L200.00,138.00 L202.00,137.72 L204.00,137.46 L206.00,137.24 L208.00,137.04 L210.00,136.87 L212.00,136.73 L214.00,136.61 L216.00,136.51 L218.00,136.43 L228.00,136.32 L235.80,136.47 L245.50,136.82 L257.90,137.45 L266.00,138.15 L274.60,139.06 L282.00,139.93 L291.60,141.07 L302.70,142.30 L314.70,143.72 L323.00,144.30 L331.70,144.20 L339.00,144.30 L348.50,145.69 L358.00,148.84 L371.40,154.52 L380.20,159.91 L388.50,165.50" fill="none" stroke="#ff00ff" stroke-width="1.3"/>
<path d="M47.50,187.20 L49.62,185.73 L51.75,184.25 L53.88,182.79 L56.00,181.40 L58.11,180.06 L60.22,178.73 L62.33,177.39 L64.44,176.07 L66.56,174.77 L68.67,173.48 L70.78,172.22 L72.89,170.99 L75.00,169.80 L77.14,168.64 L79.29,167.53 L81.43,166.47 L83.57,165.45 L85.71,164.45 L87.86,163.47 L90.00,162.50 L92.00,161.65 L94.00,160.87 L96.00,160.12 L98.00,159.35 L100.00,158.50 L102.00,157.59 L104.00,156.67 L106.00,155.74 L108.00,154.80 L110.00,153.84 L112.00,152.89 L114.00,151.92 L116.00,150.95 L118.00,149.98 L120.00,149.01 L122.00,148.04 L124.00,147.08 L126.00,146.11 L128.00,145.16 L130.00,144.21 L132.00,143.27 L134.00,142.34 L136.00,141.42 L138.00,140.52 L140.00,139.64 L142.00,138.77 L144.00,137.92 L146.00,137.09 L148.00,136.28 L150.00,135.50 L152.00,134.73 L154.00,133.98 L156.00,133.22 L158.00,132.48 L160.00,131.75 L162.00,131.03 L164.00,130.32 L166.00,129.62 L168.00,128.93 L170.00,128.26 L172.00,127.59 L174.00,126.94 L176.00,126.31 L178.00,125.69 L180.00,125.08 L182.00,124.49 L184.00,123.92 L186.00,123.37 L188.00,122.83 L190.00,122.31 L192.00,121.81 L194.00,121.32 L196.00,120.86 L198.00,120.42 L200.00,120.00 L202.00,119.60 L204.00,119.23 L206.00,118.88 L208.00,118.55 L210.00,118.25 L212.00,117.96 L214.00,117.70 L216.00,117.45 L218.00,117.22 L228.00,116.29 L235.80,115.75 L245.50,115.23 L257.90,114.77 L266.00,114.80 L274.60,114.99 L282.00,115.16 L291.60,115.23 L302.70,114.86 L314.70,114.07 L323.00,113.36 L331.70,112.47 L339.00,111.58 L348.50,110.23 L358.00,107.91 L371.40,103.78 L380.20,105.03 L388.50,106.40 L388.50,148.00 L380.20,145.24 L371.40,142.32 L358.00,139.94 L348.50,141.22 L339.00,143.41 L331.70,144.80 L323.00,146.75 L314.70,148.29 L302.70,149.64 L291.60,150.65 L282.00,151.21 L274.60,151.40 L266.00,151.10 L257.90,151.03 L245.50,151.27 L235.80,151.18 L228.00,151.30 L218.00,151.63 L216.89,151.67 L214.77,151.72 L212.66,151.77 L210.54,151.84 L208.43,151.92 L206.31,152.04 L204.20,152.20 L202.10,152.41 L200.00,152.66 L197.90,152.94 L195.80,153.25 L193.70,153.56 L191.60,153.88 L189.50,154.20 L187.00,154.60 L184.50,155.10 L182.39,155.57 L180.27,156.04 L178.16,156.52 L176.04,157.00 L173.93,157.51 L171.81,158.04 L169.70,158.60 L167.66,159.19 L165.62,159.83 L163.58,160.52 L161.54,161.21 L159.50,161.90 L157.25,162.68 L155.00,163.50 L152.94,164.24 L150.88,164.97 L148.82,165.71 L146.76,166.48 L144.70,167.30 L142.60,168.17 L140.50,169.06 L138.40,169.96 L136.30,170.89 L134.20,171.83 L132.10,172.80 L130.00,173.80 L128.00,174.81 L126.00,175.88 L124.00,176.98 L122.00,178.10 L120.00,179.20 L118.00,180.28 L116.00,181.36 L114.00,182.44 L112.00,183.52 L110.00,184.60 L107.92,185.72 L105.83,186.84 L103.75,187.97 L101.67,189.09 L99.58,190.21 L97.50,191.33 L95.42,192.45 L93.33,193.57 L91.25,194.69 L89.17,195.80 L87.08,196.90 L85.00,198.00 L82.92,199.10 L80.83,200.19 L78.75,201.28 L76.67,202.37 L74.58,203.45 L72.50,204.54 L70.42,205.62 L68.33,206.70 L66.25,207.78 L64.17,208.86 L62.08,209.94 L60.00,211.02 L57.92,212.10 L55.83,213.18 L53.75,214.26 L51.67,215.34 L49.58,216.42 L47.50,217.50Z" fill="#00ffff" fill-opacity="0.5"/>
<clipPath id="cC"><path d="M47.50,187.20 L49.62,185.73 L51.75,184.25 L53.88,182.79 L56.00,181.40 L58.11,180.06 L60.22,178.73 L62.33,177.39 L64.44,176.07 L66.56,174.77 L68.67,173.48 L70.78,172.22 L72.89,170.99 L75.00,169.80 L77.14,168.64 L79.29,167.53 L81.43,166.47 L83.57,165.45 L85.71,164.45 L87.86,163.47 L90.00,162.50 L92.00,161.65 L94.00,160.87 L96.00,160.12 L98.00,159.35 L100.00,158.50 L102.00,157.59 L104.00,156.67 L106.00,155.74 L108.00,154.80 L110.00,153.84 L112.00,152.89 L114.00,151.92 L116.00,150.95 L118.00,149.98 L120.00,149.01 L122.00,148.04 L124.00,147.08 L126.00,146.11 L128.00,145.16 L130.00,144.21 L132.00,143.27 L134.00,142.34 L136.00,141.42 L138.00,140.52 L140.00,139.64 L142.00,138.77 L144.00,137.92 L146.00,137.09 L148.00,136.28 L150.00,135.50 L152.00,134.73 L154.00,133.98 L156.00,133.22 L158.00,132.48 L160.00,131.75 L162.00,131.03 L164.00,130.32 L166.00,129.62 L168.00,128.93 L170.00,128.26 L172.00,127.59 L174.00,126.94 L176.00,126.31 L178.00,125.69 L180.00,125.08 L182.00,124.49 L184.00,123.92 L186.00,123.37 L188.00,122.83 L190.00,122.31 L192.00,121.81 L194.00,121.32 L196.00,120.86 L198.00,120.42 L200.00,120.00 L202.00,119.60 L204.00,119.23 L206.00,118.88 L208.00,118.55 L210.00,118.25 L212.00,117.96 L214.00,117.70 L216.00,117.45 L218.00,117.22 L228.00,116.29 L235.80,115.75 L245.50,115.23 L257.90,114.77 L266.00,114.80 L274.60,114.99 L282.00,115.16 L291.60,115.23 L302.70,114.86 L314.70,114.07 L323.00,113.36 L331.70,112.47 L339.00,111.58 L348.50,110.23 L358.00,107.91 L371.40,103.78 L380.20,105.03 L388.50,106.40 L388.50,148.00 L380.20,145.24 L371.40,142.32 L358.00,139.94 L348.50,141.22 L339.00,143.41 L331.70,144.80 L323.00,146.75 L314.70,148.29 L302.70,149.64 L291.60,150.65 L282.00,151.21 L274.60,151.40 L266.00,151.10 L257.90,151.03 L245.50,151.27 L235.80,151.18 L228.00,151.30 L218.00,151.63 L216.89,151.67 L214.77,151.72 L212.66,151.77 L210.54,151.84 L208.43,151.92 L206.31,152.04 L204.20,152.20 L202.10,152.41 L200.00,152.66 L197.90,152.94 L195.80,153.25 L193.70,153.56 L191.60,153.88 L189.50,154.20 L187.00,154.60 L184.50,155.10 L182.39,155.57 L180.27,156.04 L178.16,156.52 L176.04,157.00 L173.93,157.51 L171.81,158.04 L169.70,158.60 L167.66,159.19 L165.62,159.83 L163.58,160.52 L161.54,161.21 L159.50,161.90 L157.25,162.68 L155.00,163.50 L152.94,164.24 L150.88,164.97 L148.82,165.71 L146.76,166.48 L144.70,167.30 L142.60,168.17 L140.50,169.06 L138.40,169.96 L136.30,170.89 L134.20,171.83 L132.10,172.80 L130.00,173.80 L128.00,174.81 L126.00,175.88 L124.00,176.98 L122.00,178.10 L120.00,179.20 L118.00,180.28 L116.00,181.36 L114.00,182.44 L112.00,183.52 L110.00,184.60 L107.92,185.72 L105.83,186.84 L103.75,187.97 L101.67,189.09 L99.58,190.21 L97.50,191.33 L95.42,192.45 L93.33,193.57 L91.25,194.69 L89.17,195.80 L87.08,196.90 L85.00,198.00 L82.92,199.10 L80.83,200.19 L78.75,201.28 L76.67,202.37 L74.58,203.45 L72.50,204.54 L70.42,205.62 L68.33,206.70 L66.25,207.78 L64.17,208.86 L62.08,209.94 L60.00,211.02 L57.92,212.10 L55.83,213.18 L53.75,214.26 L51.67,215.34 L49.58,216.42 L47.50,217.50Z"/></clipPath>
<path clip-path="url(#cC)" d="M161.2,40V270 M178.4,40V270 M188.8,40V270 M218.0,40V270 M235.8,40V270 M245.5,40V270 M257.9,40V270 M274.6,40V270 M282.0,40V270 M302.7,40V270 M314.7,40V270 M331.7,40V270 M339.0,40V270 M348.5,40V270 M358.0,40V270 M371.4,40V270" stroke="#00ffff" stroke-opacity="0.16" stroke-width="0.7" fill="none"/>
<path d="M47.50,188.40 L49.62,186.79 L51.75,185.17 L53.88,183.58 L56.00,182.10 L58.13,180.69 L60.27,179.28 L62.40,177.89 L64.53,176.52 L66.67,175.17 L68.80,173.83 L70.93,172.53 L73.07,171.25 L75.20,170.00 L77.27,168.82 L79.33,167.66 L81.40,166.53 L83.47,165.41 L85.53,164.31 L87.60,163.22 L89.67,162.13 L91.73,161.05 L93.80,159.97 L95.87,158.89 L97.93,157.80 L100.00,156.70 L102.00,155.62 L104.00,154.53 L106.00,153.43 L108.00,152.33 L110.00,151.22 L112.00,150.11 L114.00,149.01 L116.00,147.91 L118.00,146.82 L120.00,145.75 L122.00,144.69 L124.00,143.66 L126.00,142.64 L128.00,141.66 L130.00,140.70 L132.00,139.80 L134.00,138.96 L136.00,138.18 L138.00,137.44 L140.00,136.72 L142.00,136.03 L144.00,135.34 L146.00,134.65 L148.00,133.94 L150.00,133.20 L152.14,132.37 L154.29,131.52 L156.43,130.66 L158.57,129.81 L160.71,128.97 L162.86,128.16 L165.00,127.40 L167.14,126.68 L169.29,126.00 L171.43,125.34 L173.57,124.71 L175.71,124.09 L177.86,123.49 L180.00,122.90 L182.00,122.36 L184.00,121.82 L186.00,121.29 L188.00,120.77 L190.00,120.26 L192.00,119.75 L194.00,119.25 L196.00,118.76 L198.00,118.28 L200.00,117.80 L202.14,117.29 L204.29,116.80 L206.43,116.31 L208.57,115.84 L210.71,115.40 L212.86,114.98 L215.00,114.60 L217.14,114.25 L218.00,114.12 L228.00,112.88 L235.80,112.51 L245.50,112.44 L257.90,112.32 L266.00,112.28 L274.60,112.25 L282.00,112.18 L291.60,111.73 L302.70,109.66 L314.70,106.41 L323.00,104.26 L331.70,102.08 L339.00,100.40 L348.50,98.90 L358.00,99.50 L371.40,103.30 L380.20,107.93 L388.50,112.50 L388.50,150.60 L380.20,146.38 L371.40,142.75 L358.00,138.83 L348.50,137.73 L339.00,138.32 L331.70,139.50 L323.00,141.91 L314.70,143.87 L302.70,146.58 L291.60,148.42 L282.00,149.24 L274.60,149.34 L266.00,149.03 L257.90,148.39 L245.50,147.47 L235.80,146.92 L228.00,146.70 L218.00,147.07 L216.89,147.16 L214.77,147.32 L212.66,147.50 L210.54,147.70 L208.43,147.91 L206.31,148.15 L204.20,148.40 L202.10,148.68 L200.00,148.99 L197.90,149.31 L195.80,149.65 L193.70,150.00 L191.60,150.35 L189.50,150.70 L187.00,151.11 L184.50,151.60 L182.39,152.09 L180.27,152.59 L178.16,153.09 L176.04,153.61 L173.93,154.15 L171.81,154.71 L169.70,155.30 L167.66,155.92 L165.62,156.60 L163.58,157.32 L161.54,158.06 L159.50,158.80 L157.25,159.64 L155.00,160.60 L152.94,161.57 L150.88,162.59 L148.82,163.61 L146.76,164.63 L144.70,165.60 L142.10,166.67 L139.50,167.70 L137.12,168.70 L134.75,169.70 L132.38,170.72 L130.00,171.80 L127.35,173.14 L124.70,174.60 L122.60,175.76 L120.50,176.93 L118.40,178.10 L116.30,179.28 L114.20,180.47 L112.10,181.68 L110.00,182.90 L107.55,184.39 L105.10,185.95 L102.65,187.51 L100.20,189.00 L98.10,190.22 L96.00,191.41 L93.90,192.58 L91.80,193.75 L89.70,194.92 L87.60,196.10 L85.50,197.30 L83.39,198.54 L81.27,199.79 L79.16,201.06 L77.04,202.34 L74.93,203.61 L72.81,204.86 L70.70,206.10 L68.60,207.31 L66.50,208.50 L64.40,209.69 L62.30,210.87 L60.20,212.04 L58.10,213.22 L56.00,214.40 L53.88,215.60 L51.75,216.80 L49.62,218.00 L47.50,219.20Z" fill="#d3d4d4"/>
<path d="M47.50,188.40 L49.62,186.79 L51.75,185.17 L53.88,183.58 L56.00,182.10 L58.13,180.69 L60.27,179.28 L62.40,177.89 L64.53,176.52 L66.67,175.17 L68.80,173.83 L70.93,172.53 L73.07,171.25 L75.20,170.00 L77.27,168.82 L79.33,167.66 L81.40,166.53 L83.47,165.41 L85.53,164.31 L87.60,163.22 L89.67,162.13 L91.73,161.05 L93.80,159.97 L95.87,158.89 L97.93,157.80 L100.00,156.70 L102.00,155.62 L104.00,154.53 L106.00,153.43 L108.00,152.33 L110.00,151.22 L112.00,150.11 L114.00,149.01 L116.00,147.91 L118.00,146.82 L120.00,145.75 L122.00,144.69 L124.00,143.66 L126.00,142.64 L128.00,141.66 L130.00,140.70 L132.00,139.80 L134.00,138.96 L136.00,138.18 L138.00,137.44 L140.00,136.72 L142.00,136.03 L144.00,135.34 L146.00,134.65 L148.00,133.94 L150.00,133.20 L152.14,132.37 L154.29,131.52 L156.43,130.66 L158.57,129.81 L160.71,128.97 L162.86,128.16 L165.00,127.40 L167.14,126.68 L169.29,126.00 L171.43,125.34 L173.57,124.71 L175.71,124.09 L177.86,123.49 L180.00,122.90 L182.00,122.36 L184.00,121.82 L186.00,121.29 L188.00,120.77 L190.00,120.26 L192.00,119.75 L194.00,119.25 L196.00,118.76 L198.00,118.28 L200.00,117.80 L202.14,117.29 L204.29,116.80 L206.43,116.31 L208.57,115.84 L210.71,115.40 L212.86,114.98 L215.00,114.60 L217.14,114.25 L218.00,114.12 L228.00,112.88 L235.80,112.51 L245.50,112.44 L257.90,112.32 L266.00,112.28 L274.60,112.25 L282.00,112.18 L291.60,111.73 L302.70,109.66 L314.70,106.41 L323.00,104.26 L331.70,102.08 L339.00,100.40 L348.50,98.90 L358.00,99.50 L371.40,103.30 L380.20,107.93 L388.50,112.50 L388.50,150.60 L380.20,146.38 L371.40,142.75 L358.00,138.83 L348.50,137.73 L339.00,138.32 L331.70,139.50 L323.00,141.91 L314.70,143.87 L302.70,146.58 L291.60,148.42 L282.00,149.24 L274.60,149.34 L266.00,149.03 L257.90,148.39 L245.50,147.47 L235.80,146.92 L228.00,146.70 L218.00,147.07 L216.89,147.16 L214.77,147.32 L212.66,147.50 L210.54,147.70 L208.43,147.91 L206.31,148.15 L204.20,148.40 L202.10,148.68 L200.00,148.99 L197.90,149.31 L195.80,149.65 L193.70,150.00 L191.60,150.35 L189.50,150.70 L187.00,151.11 L184.50,151.60 L182.39,152.09 L180.27,152.59 L178.16,153.09 L176.04,153.61 L173.93,154.15 L171.81,154.71 L169.70,155.30 L167.66,155.92 L165.62,156.60 L163.58,157.32 L161.54,158.06 L159.50,158.80 L157.25,159.64 L155.00,160.60 L152.94,161.57 L150.88,162.59 L148.82,163.61 L146.76,164.63 L144.70,165.60 L142.10,166.67 L139.50,167.70 L137.12,168.70 L134.75,169.70 L132.38,170.72 L130.00,171.80 L127.35,173.14 L124.70,174.60 L122.60,175.76 L120.50,176.93 L118.40,178.10 L116.30,179.28 L114.20,180.47 L112.10,181.68 L110.00,182.90 L107.55,184.39 L105.10,185.95 L102.65,187.51 L100.20,189.00 L98.10,190.22 L96.00,191.41 L93.90,192.58 L91.80,193.75 L89.70,194.92 L87.60,196.10 L85.50,197.30 L83.39,198.54 L81.27,199.79 L79.16,201.06 L77.04,202.34 L74.93,203.61 L72.81,204.86 L70.70,206.10 L68.60,207.31 L66.50,208.50 L64.40,209.69 L62.30,210.87 L60.20,212.04 L58.10,213.22 L56.00,214.40 L53.88,215.60 L51.75,216.80 L49.62,218.00 L47.50,219.20Z" fill="url(#dots)"/>
<path d="M47.50,207.60 L49.64,206.28 L51.78,204.96 L53.92,203.63 L56.06,202.31 L58.20,201.00 L60.38,199.66 L62.56,198.32 L64.74,196.97 L66.92,195.63 L69.10,194.29 L71.28,192.95 L73.46,191.62 L75.64,190.30 L77.82,188.99 L80.00,187.70 L82.08,186.47 L84.17,185.25 L86.25,184.03 L88.33,182.82 L90.42,181.61 L92.50,180.41 L94.58,179.22 L96.67,178.04 L98.75,176.86 L100.83,175.70 L102.92,174.54 L105.00,173.40 L107.08,172.27 L109.17,171.15 L111.25,170.04 L113.33,168.93 L115.42,167.84 L117.50,166.76 L119.58,165.68 L121.67,164.61 L123.75,163.55 L125.83,162.49 L127.92,161.44 L130.00,160.40 L132.00,159.40 L134.00,158.41 L136.00,157.43 L138.00,156.46 L140.00,155.50 L142.00,154.55 L144.00,153.62 L146.00,152.69 L148.00,151.79 L150.00,150.90 L152.14,149.98 L154.29,149.09 L156.43,148.23 L158.57,147.39 L160.71,146.58 L162.86,145.78 L165.00,145.00 L167.14,144.22 L169.29,143.46 L171.43,142.71 L173.57,141.98 L175.71,141.28 L177.86,140.62 L180.00,140.00 L182.00,139.46 L184.00,138.93 L186.00,138.42 L188.00,137.93 L190.00,137.46 L192.00,137.00 L194.00,136.56 L196.00,136.12 L198.00,135.71 L200.00,135.30 L202.06,134.90 L204.11,134.52 L206.17,134.18 L208.23,133.86 L210.29,133.57 L212.34,133.32 L214.40,133.10 L216.61,132.90 L218.00,132.79 L228.00,132.29 L235.80,132.19 L245.50,132.39 L257.90,133.00 L266.00,133.66 L274.60,134.39 L282.00,134.41 L291.60,133.00 L302.70,131.01 L314.70,128.33 L323.00,125.84 L331.70,123.40 L339.00,122.14 L348.50,121.22 L358.00,122.11 L371.40,127.29 L380.20,131.60 L388.50,136.00" fill="none" stroke="#111" stroke-width="1.5" stroke-dasharray="2.9 3.3" stroke-dashoffset="1.0"/>
<path d="M47.5,187.9 L56,182.0 L66,175.6 L76,169.6" fill="none" stroke="#62c8ee" stroke-width="1.0"/>
</g>
<rect x="47.50" y="32.50" width="341.00" height="244.50" fill="none" stroke="#6a6a6a" stroke-width="1.0"/>
<path d="M388.50,32.50L388.50,277.00M47.50,32.50L47.50,277.00" stroke="#444" stroke-opacity="0.3" stroke-width="1" fill="none"/>
<text text-rendering="geometricPrecision" x="98.80" y="295.50" font-family="Liberation Sans, sans-serif" font-size="8.6" fill="#111">10<tspan dx="-0.9" dy="-2.5" font-size="6.7">3</tspan></text>
<text text-rendering="geometricPrecision" x="155.60" y="295.50" font-family="Liberation Sans, sans-serif" font-size="8.6" fill="#111">10<tspan dx="-0.9" dy="-2.5" font-size="6.7">4</tspan></text>
<text text-rendering="geometricPrecision" x="212.40" y="295.50" font-family="Liberation Sans, sans-serif" font-size="8.6" fill="#111">10<tspan dx="-0.9" dy="-2.5" font-size="6.7">5</tspan></text>
<text text-rendering="geometricPrecision" x="269.20" y="295.50" font-family="Liberation Sans, sans-serif" font-size="8.6" fill="#111">10<tspan dx="-0.9" dy="-2.5" font-size="6.7">6</tspan></text>
<text text-rendering="geometricPrecision" x="326.00" y="295.50" font-family="Liberation Sans, sans-serif" font-size="8.6" fill="#111">10<tspan dx="-0.9" dy="-2.5" font-size="6.7">7</tspan></text>
<text text-rendering="geometricPrecision" x="382.80" y="295.50" font-family="Liberation Sans, sans-serif" font-size="8.6" fill="#111">10<tspan dx="-0.9" dy="-2.5" font-size="6.7">8</tspan></text>
<text text-rendering="geometricPrecision" x="27.60" y="273.00" font-family="Liberation Sans, sans-serif" font-size="8.6" fill="#111">10<tspan dx="-1.3" dy="-2.9" font-size="6.7">-6</tspan></text>
<text text-rendering="geometricPrecision" x="27.60" y="214.75" font-family="Liberation Sans, sans-serif" font-size="8.6" fill="#111">10<tspan dx="-1.3" dy="-2.9" font-size="6.7">-5</tspan></text>
<text text-rendering="geometricPrecision" x="27.60" y="156.50" font-family="Liberation Sans, sans-serif" font-size="8.6" fill="#111">10<tspan dx="-1.3" dy="-2.9" font-size="6.7">-4</tspan></text>
<text text-rendering="geometricPrecision" x="27.60" y="98.25" font-family="Liberation Sans, sans-serif" font-size="8.6" fill="#111">10<tspan dx="-1.3" dy="-2.9" font-size="6.7">-3</tspan></text>
<text text-rendering="geometricPrecision" x="27.60" y="40.00" font-family="Liberation Sans, sans-serif" font-size="8.6" fill="#111">10<tspan dx="-1.3" dy="-2.9" font-size="6.7">-2</tspan></text>
<g transform="translate(138.00,15.90)" font-family="Liberation Sans, sans-serif" fill="#111" text-rendering="geometricPrecision" style="white-space:pre"><text x="0.00" y="0.00" font-size="11">GM-VFNS</text></g>
<g transform="translate(201.30,15.90)" font-family="Liberation Sans, sans-serif" fill="#111" text-rendering="geometricPrecision" style="white-space:pre"><text x="0.00" y="0.00" font-size="11">(</text><text transform="translate(6.72,0.00) scale(1.120,1)" font-size="11">ν</text><text transform="translate(12.88,2.60) scale(1.200,1)" font-size="9">μ</text><text x="21.86" y="0.00" font-size="11">+ anti-</text><text transform="translate(53.04,0.00) scale(1.120,1)" font-size="11">ν</text><text transform="translate(59.20,2.60) scale(1.200,1)" font-size="9">μ</text><text x="66.58" y="0.00" font-size="11">)</text></g>
<g transform="translate(281.50,15.90)" font-family="Liberation Sans, sans-serif" fill="#111" text-rendering="geometricPrecision" style="white-space:pre"><text x="0.00" y="0.00" font-size="11">flux</text></g>
<g transform="translate(176.60,315.40)" font-family="Liberation Sans, sans-serif" fill="#111" text-rendering="geometricPrecision" style="white-space:pre"><text x="0.00" y="0.00" font-size="11">E</text><text transform="translate(7.34,2.50) scale(1.150,1)" font-size="9.5">ν</text><text x="11.30" y="2.50" font-size="9.5">, lab</text></g>
<g transform="translate(218.20,315.40)" font-family="Liberation Sans, sans-serif" fill="#111" text-rendering="geometricPrecision" style="white-space:pre"><text x="0.00" y="0.00" font-size="11">( GeV )</text></g>
<g transform="translate(16.20,260.60) rotate(-90)" font-family="Liberation Sans, sans-serif" fill="#111" text-rendering="geometricPrecision" style="white-space:pre"><text x="0.00" y="0.00" font-size="11">E</text><text x="8.54" y="-4.30" font-size="8.5">3</text><text transform="translate(10.86,3.20) scale(1.150,1)" font-size="9.5">ν</text><text x="15.63" y="3.20" font-size="9.5">, lab</text><text x="40.50" y="0.00" font-size="11">dN</text><text x="58.51" y="0.00" font-size="11">/ d</text><text x="70.24" y="0.00" font-size="11">E</text><text transform="translate(77.18,3.20) scale(1.150,1)" font-size="9.5">ν</text><text x="81.04" y="3.20" font-size="9.5">, lab</text></g>
<g transform="translate(16.20,153.80) rotate(-90)" font-family="Liberation Sans, sans-serif" fill="#111" text-rendering="geometricPrecision" style="white-space:pre"><text x="0.00" y="0.00" font-size="11">(</text><text x="8.92" y="0.00" font-size="11">GeV</text><text x="30.43" y="-4.00" font-size="8.5">2</text><text x="36.31" y="0.00" font-size="11">cm</text><text x="51.98" y="-4.00" font-size="8.5">-2</text><text x="63.09" y="0.00" font-size="11">s</text><text x="69.09" y="-4.00" font-size="8.5">-1</text><text x="78.50" y="0.00" font-size="11">sr</text><text x="89.37" y="-4.00" font-size="8.5">-1</text><text x="100.48" y="0.00" font-size="11">)</text></g>
<g transform="translate(343.20,206.60)" font-family="Liberation Sans, sans-serif" fill="#111" text-rendering="geometricPrecision" style="white-space:pre"><text x="-227.85" y="0.00" font-size="10">GM-VFNS scale unc.</text><text transform="translate(-131.16,0.00) scale(1.250,1)" font-size="10">μ</text><text x="-123.96" y="2.20" font-size="7.8">r</text><text x="-118.68" y="0.00" font-size="10">= [0.5,2]</text><text transform="translate(-79.49,0.00) scale(1.250,1)" font-size="10">μ</text><text x="-72.29" y="2.20" font-size="7.8">0</text><text x="-68.35" y="0.00" font-size="10">, power-law CR</text></g>
<rect x="348.6" y="200.10" width="28" height="6.6" fill="#ff0000" fill-opacity="0.5" stroke="#ff0000" stroke-opacity="0.55" stroke-width="1"/>
<g transform="translate(343.20,219.12)" font-family="Liberation Sans, sans-serif" fill="#111" text-rendering="geometricPrecision" style="white-space:pre"><text x="-211.18" y="0.00" font-size="10">GM-VFNS scale unc.</text><text transform="translate(-114.49,0.00) scale(1.250,1)" font-size="10">μ</text><text x="-107.29" y="2.20" font-size="7.8">r</text><text x="-102.01" y="0.00" font-size="10">= [0.5,2]</text><text transform="translate(-62.82,0.00) scale(1.250,1)" font-size="10">μ</text><text x="-55.61" y="2.20" font-size="7.8">0</text><text x="-51.67" y="0.00" font-size="10">, GST-3 CR</text></g>
<rect x="348.6" y="212.62" width="28" height="6.6" fill="#00ff00" fill-opacity="0.5" stroke="#00ff00" stroke-opacity="0.55" stroke-width="1"/>
<g transform="translate(343.20,231.64)" font-family="Liberation Sans, sans-serif" fill="#111" text-rendering="geometricPrecision" style="white-space:pre"><text x="-211.18" y="0.00" font-size="10">GM-VFNS scale unc.</text><text transform="translate(-114.49,0.00) scale(1.250,1)" font-size="10">μ</text><text x="-107.29" y="2.20" font-size="7.8">r</text><text x="-102.01" y="0.00" font-size="10">= [0.5,2]</text><text transform="translate(-62.82,0.00) scale(1.250,1)" font-size="10">μ</text><text x="-55.61" y="2.20" font-size="7.8">0</text><text x="-51.67" y="0.00" font-size="10">, GST-4 CR</text></g>
<rect x="348.6" y="225.14" width="28" height="6.6" fill="#0000ff" fill-opacity="0.5" stroke="#0000ff" stroke-opacity="0.55" stroke-width="1"/>
<g transform="translate(343.20,244.16)" font-family="Liberation Sans, sans-serif" fill="#111" text-rendering="geometricPrecision" style="white-space:pre"><text x="-200.63" y="0.00" font-size="10">GM-VFNS scale unc.</text><text transform="translate(-103.94,0.00) scale(1.250,1)" font-size="10">μ</text><text x="-96.73" y="2.20" font-size="7.8">r</text><text x="-91.46" y="0.00" font-size="10">= [0.5,2]</text><text transform="translate(-52.26,0.00) scale(1.250,1)" font-size="10">μ</text><text x="-45.06" y="2.20" font-size="7.8">0</text><text x="-41.12" y="0.00" font-size="10">, H3a CR</text></g>
<rect x="348.6" y="237.66" width="28" height="6.6" fill="#ff00ff" fill-opacity="0.5" stroke="#ff00ff" stroke-opacity="0.55" stroke-width="1"/>
<g transform="translate(343.20,256.68)" font-family="Liberation Sans, sans-serif" fill="#111" text-rendering="geometricPrecision" style="white-space:pre"><text x="-200.63" y="0.00" font-size="10">GM-VFNS scale unc.</text><text transform="translate(-103.94,0.00) scale(1.250,1)" font-size="10">μ</text><text x="-96.73" y="2.20" font-size="7.8">r</text><text x="-91.46" y="0.00" font-size="10">= [0.5,2]</text><text transform="translate(-52.26,0.00) scale(1.250,1)" font-size="10">μ</text><text x="-45.06" y="2.20" font-size="7.8">0</text><text x="-41.12" y="0.00" font-size="10">, H3p CR</text></g>
<rect x="348.6" y="250.18" width="28" height="6.6" fill="#00ffff" fill-opacity="0.5" stroke="#00ffff" stroke-opacity="0.55" stroke-width="1"/>
<g transform="translate(343.20,269.20)" font-family="Liberation Sans, sans-serif" fill="#111" text-rendering="geometricPrecision" style="white-space:pre"><text x="-224.52" y="0.00" font-size="10">GM-VFNS scale unc.</text><text transform="translate(-127.83,0.00) scale(1.250,1)" font-size="10">μ</text><text x="-120.63" y="2.20" font-size="7.8">r</text><text x="-115.35" y="0.00" font-size="10">= [0.5,2]</text><text transform="translate(-76.16,0.00) scale(1.250,1)" font-size="10">μ</text><text x="-68.96" y="2.20" font-size="7.8">0</text><text x="-65.02" y="0.00" font-size="10">, Nijmegen CR</text></g>
<rect x="348.6" y="262.70" width="28" height="6.6" fill="#d3d4d4" stroke="#bbb" stroke-width="1"/><rect x="348.6" y="262.70" width="28" height="6.6" fill="url(#dots)"/>
</svg>
</body></html>
